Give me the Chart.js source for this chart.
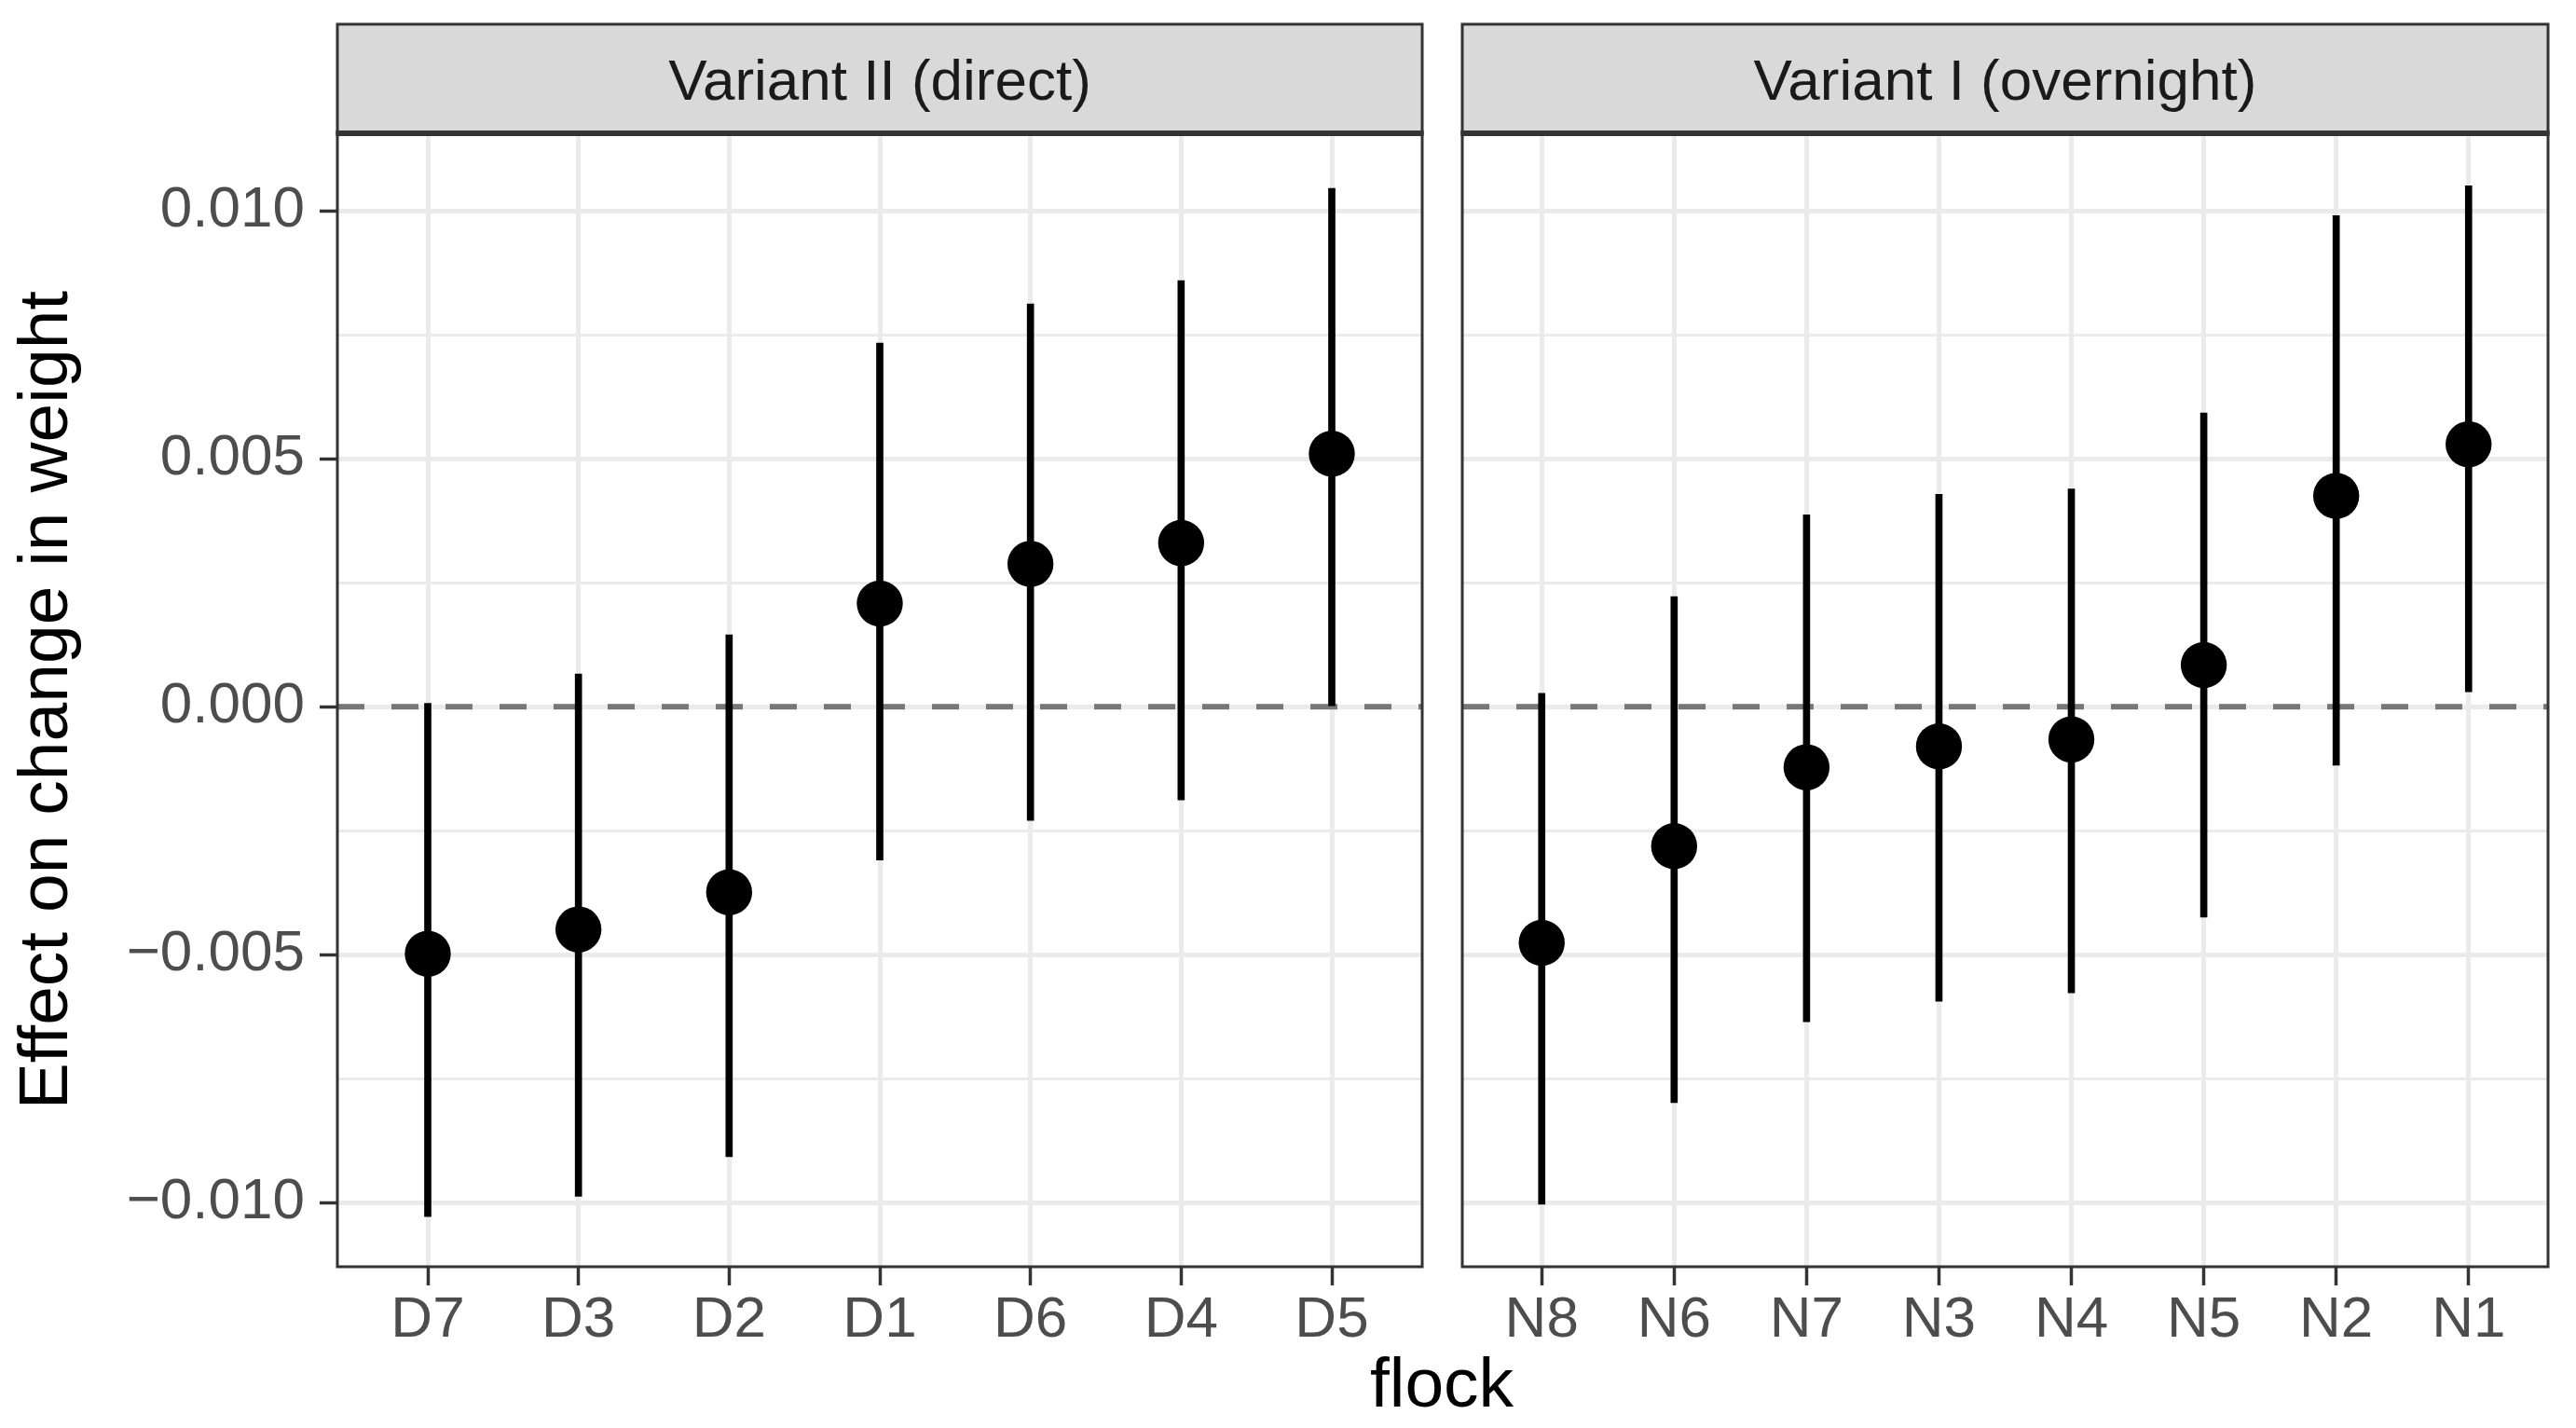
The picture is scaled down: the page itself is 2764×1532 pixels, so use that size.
<!DOCTYPE html>
<html>
<head>
<meta charset="utf-8">
<script src="https://cdn.jsdelivr.net/npm/chart.js@4.4.1/dist/chart.umd.min.js"></script>
<style>
  html, body { margin: 0; padding: 0; background: #fff; }
  body { width: 2764px; height: 1532px; position: relative; overflow: hidden;
         font-family: 'Liberation Sans', Arial, sans-serif; }
  .facet { position: absolute; top: 0; height: 1532px; }
  #wrapDirect { left: 0; width: 1540px; }
  #wrapOvernight { left: 1540px; width: 1224px; }
  #xTitle { position: absolute; left: 1547px; top: 1446px; transform: translateX(-50%);
            font-size: 75px; line-height: 1; color: #000; white-space: nowrap; }
</style>
</head>
<body>
<div class="facet" id="wrapDirect"><canvas id="chartDirect"></canvas></div>
<div class="facet" id="wrapOvernight"><canvas id="chartOvernight"></canvas></div>
<div id="xTitle">flock</div>
<script>
// Variant II (direct)
const directFlocks = ['D7', 'D3', 'D2', 'D1', 'D6', 'D4', 'D5'];
const directEst  = [-0.00498, -0.00449, -0.00374, 0.00208, 0.00288, 0.00330, 0.00510];
const directLow  = [-0.01028, -0.00987, -0.00907, -0.00309, -0.00229, -0.00188, 0.00002];
const directHigh = [0.00007, 0.00066, 0.00145, 0.00733, 0.00812, 0.00859, 0.01045];

// Variant I (overnight)
const overnightFlocks = ['N8', 'N6', 'N7', 'N3', 'N4', 'N5', 'N2', 'N1'];
const overnightEst  = [-0.00476, -0.00281, -0.00122, -0.00080, -0.00066, 0.00084, 0.00425, 0.00529];
const overnightLow  = [-0.01003, -0.00798, -0.00635, -0.00594, -0.00577, -0.00424, -0.00118, 0.00030];
const overnightHigh = [0.00027, 0.00222, 0.00387, 0.00428, 0.00439, 0.00592, 0.00990, 0.01050];

// y axis
const yMajorTicks = [-0.01, -0.005, 0, 0.005, 0.01];
const yTickLabels = ['\u22120.010', '\u22120.005', '0.000', '0.005', '0.010'];
const yMinorTicks = [-0.0075, -0.0025, 0.0025, 0.0075];
const yRange = [-0.01129, 0.01156];

Chart.defaults.font.family = "'Liberation Sans', Arial, sans-serif";

function isMajor(ctx) {
    return ctx.tick && yMajorTicks.indexOf(ctx.tick.value) >= 0;
}

// grey strip on top + dark panel border, like facet_wrap in theme_bw
const facetStrip = {
    id: 'facetStrip',
    afterDraw(chart, args, opts) {
        const ctx = chart.ctx;
        const a = chart.chartArea;
        const w = a.right - a.left;
        const top = a.top - 117;
        ctx.save();
        ctx.strokeStyle = '#333333';
        ctx.lineWidth = 3;
        ctx.strokeRect(a.left, a.top, w, a.bottom - a.top);
        ctx.fillStyle = '#d9d9d9';
        ctx.fillRect(a.left, top, w, 117);
        ctx.strokeRect(a.left, top, w, 117);
        ctx.lineWidth = 6;
        ctx.beginPath();
        ctx.moveTo(a.left - 1.5, a.top);
        ctx.lineTo(a.right + 1.5, a.top);
        ctx.stroke();
        ctx.fillStyle = '#1a1a1a';
        ctx.font = "62px 'Liberation Sans', Arial, sans-serif";
        ctx.textAlign = 'center';
        ctx.textBaseline = 'alphabetic';
        ctx.fillText(opts.label, (a.left + a.right) / 2, a.top - 36);
        ctx.restore();
    }
};

function makeFacet(canvasId, label, flocks, est, low, high, firstPanel) {
    const ctx = document.getElementById(canvasId).getContext('2d');
    return new Chart(ctx, {
        type: 'scatter',
        data: {
            datasets: [{
                type: 'scatter',
                data: est.map((v, i) => ({x: i, y: v})),
                backgroundColor: '#000',
                pointRadius: 24.7,
                pointHoverRadius: 24.7,
                borderWidth: 0,
                order: 0
            }, {
                type: 'bar',
                data: low.map((v, i) => ({x: i, y: [v, high[i]]})),
                backgroundColor: '#000',
                barThickness: 7,
                borderWidth: 0,
                order: 1
            }, {
                type: 'line',
                data: [{x: -0.6, y: 0}, {x: flocks.length - 0.4, y: 0}],
                borderColor: '#777777',
                borderWidth: 6,
                borderDash: [29, 29],
                pointRadius: 0,
                fill: false,
                order: 2
            }]
        },
        plugins: [facetStrip],
        options: {
            responsive: true,
            maintainAspectRatio: false,
            animation: false,
            events: [],
            layout: {
                autoPadding: false,
                padding: firstPanel ? {left: 0, top: 143, right: 14, bottom: 0}
                                    : {left: 29, top: 143, right: 30, bottom: 0}
            },
            plugins: {
                legend: { display: false },
                tooltip: { enabled: false },
                facetStrip: { label: label }
            },
            scales: {
                x: {
                    type: 'linear',
                    min: -0.6,
                    max: flocks.length - 0.4,
                    offset: false,
                    afterBuildTicks: axis => { axis.ticks = flocks.map((f, i) => ({value: i})); },
                    afterFit: axis => {
                        axis.height = 173;
                        axis.paddingLeft = 0;
                        axis.paddingRight = 0;
                    },
                    ticks: {
                        autoSkip: false,
                        maxRotation: 0,
                        padding: 1,
                        color: '#4d4d4d',
                        font: { size: 62 },
                        callback: v => flocks[v]
                    },
                    grid: {
                        offset: false,
                        color: '#ebebeb',
                        lineWidth: 5,
                        drawTicks: true,
                        tickLength: 20,
                        tickColor: '#333333',
                        tickWidth: 3.5
                    },
                    border: { display: false }
                },
                y: {
                    type: 'linear',
                    min: yRange[0],
                    max: yRange[1],
                    afterBuildTicks: axis => {
                        axis.ticks = yMajorTicks.concat(yMinorTicks)
                            .sort((a, b) => a - b)
                            .map(v => ({value: v}));
                    },
                    afterFit: axis => {
                        axis.width = firstPanel ? 362 : 0;
                        axis.paddingTop = 0;
                        axis.paddingBottom = 0;
                    },
                    ticks: {
                        display: firstPanel,
                        autoSkip: false,
                        padding: 16,
                        color: '#4d4d4d',
                        font: { size: 62 },
                        callback: v => {
                            const k = yMajorTicks.indexOf(v);
                            return k < 0 ? '' : yTickLabels[k];
                        }
                    },
                    grid: {
                        color: '#ebebeb',
                        lineWidth: c => isMajor(c) ? 5 : 3,
                        drawTicks: firstPanel,
                        tickLength: 19,
                        tickColor: c => isMajor(c) ? '#333333' : 'rgba(0,0,0,0)',
                        tickWidth: 3.5
                    },
                    border: { display: false },
                    title: {
                        display: firstPanel,
                        text: 'Effect on change in weight',
                        color: '#000',
                        font: { size: 75 },
                        padding: { top: 6, bottom: 0 }
                    }
                }
            }
        }
    });
}

document.addEventListener('DOMContentLoaded', function() {
    makeFacet('chartDirect', 'Variant II (direct)', directFlocks,
              directEst, directLow, directHigh, true);
    makeFacet('chartOvernight', 'Variant I (overnight)', overnightFlocks,
              overnightEst, overnightLow, overnightHigh, false);
});
</script>
</body>
</html>
